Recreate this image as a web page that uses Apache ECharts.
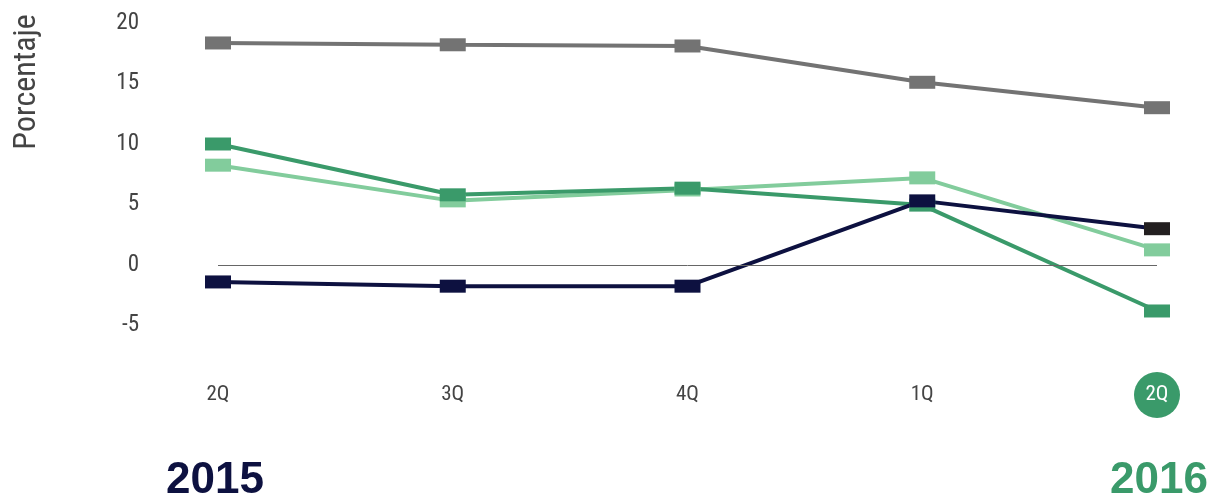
<!DOCTYPE html>
<html><head><meta charset="utf-8">
<script src="https://cdn.jsdelivr.net/npm/echarts@6/dist/echarts.min.js"></script>
<style>html,body{margin:0;padding:0;background:#fff}#c{width:1213px;height:497px}</style>
</head><body><div id="c"></div>
<script>
const categories = ['2Q', '3Q', '4Q', '1Q', '2Q'];
const yearLabels = ['2015', '2016'];
const seriesGray = [18.35, 18.2, 18.1, 15.1, 13.0];
const seriesLightGreen = [8.25, 5.3, 6.2, 7.2, 1.25];
const seriesDarkGreen = [10.0, 5.8, 6.35, 4.95, -3.8];
const seriesNavy = [-1.4, -1.75, -1.75, 5.3, 3.0];
const yTicks = [-10, -5, 0, 5, 10, 15, 20];

const FONT = '"Liberation Sans Narrow","Roboto Condensed","DejaVu Sans Condensed","Roboto",sans-serif';
const chart = echarts.init(document.getElementById('c'));
function mk(name, data, color, extra) {
  return Object.assign({
    name, type: 'line', data, symbol: 'rect', symbolSize: [26, 13],
    lineStyle: { color, width: 4 }, itemStyle: { color },
    animation: false
  }, extra || {});
}
chart.setOption({
  animation: false,
  grid: { left: 218, right: 56, top: 23, bottom: 111 },
  xAxis: {
    type: 'category', data: categories, boundaryGap: false,
    axisLine: { show: false }, axisTick: { show: false },
    axisLabel: {
      margin: -14, fontFamily: FONT, fontSize: 21, color: '#444',
      formatter: (v, i) => i === categories.length - 1 ? '{hl|' + v + '}' : '{n|' + v + '}',
      rich: {
        hl: { backgroundColor: '#3a9a6a', color: '#fff', borderRadius: 23, width: 46, height: 46, lineHeight: 46, align: 'center', fontFamily: FONT, fontSize: 21 },
        n: { height: 46, lineHeight: 46, color: '#444', fontFamily: FONT, fontSize: 21 }
      }
    }
  },
  yAxis: {
    type: 'value', min: yTicks[0], max: yTicks[yTicks.length - 1], interval: 5,
    splitLine: { show: false }, axisLine: { show: false }, axisTick: { show: false },
    axisLabel: { margin: 79, fontFamily: FONT, fontSize: 23, color: '#444',
      formatter: v => v === yTicks[0] ? '' : String(v) }
  },
  graphic: [
    { type: 'text', x: 27, y: 82, rotation: Math.PI / 2,
      style: { text: 'Porcentaje', x: 0, y: 0, align: 'center', verticalAlign: 'middle', font: '32px ' + FONT, fill: '#444' } },
    { type: 'text', left: 166, top: 459, style: { text: yearLabels[0], font: 'bold 44px "Liberation Sans",Arial,sans-serif', fill: '#0d1140' } },
    { type: 'text', right: 5, top: 459, style: { text: yearLabels[1], font: 'bold 44px "Liberation Sans",Arial,sans-serif', fill: '#3a9a6a' } }
  ],
  series: [
    mk('gray', seriesGray, '#737373', {
      markLine: { silent: true, symbol: 'none', label: { show: false },
        lineStyle: { color: '#666', width: 1, type: 'solid' }, data: [{ yAxis: 0 }] }
    }),
    mk('lightgreen', seriesLightGreen, '#82cc9c'),
    mk('darkgreen', seriesDarkGreen, '#3a9a6a'),
    mk('navy', seriesNavy.map((v, i) => i === seriesNavy.length - 1 ? { value: v, itemStyle: { color: '#231f20' } } : v), '#0d1140')
  ]
});
</script></body></html>
